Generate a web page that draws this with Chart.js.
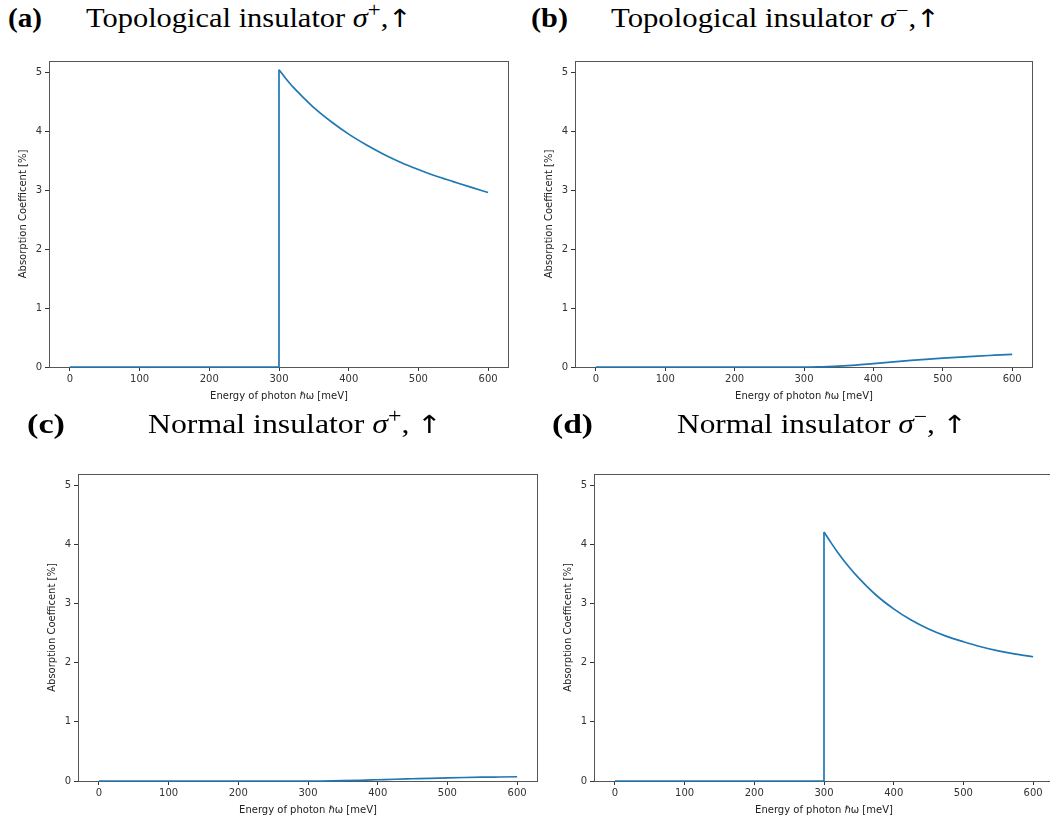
<!DOCTYPE html>
<html><head><meta charset="utf-8">
<script src="https://cdn.jsdelivr.net/npm/chart.js@4"></script>
<style>
html,body{margin:0;padding:0;background:#fff;overflow:hidden;width:1050px;height:822px;position:relative;}
canvas{position:absolute;}
.lab{position:absolute;font-family:"Liberation Serif",serif;font-size:27px;line-height:27px;color:#000;white-space:nowrap;font-weight:bold;transform-origin:0 0;}
.ttl{position:absolute;font-family:"Liberation Serif",serif;font-size:27px;line-height:27px;color:#000;white-space:nowrap;transform-origin:0 0;}
.ttl sup{font-size:0.75em;line-height:0;vertical-align:0.5em;}
.ttl .arr{font-family:"DejaVu Sans",sans-serif;font-size:25px;font-weight:normal;}
</style></head><body>
<script>
// ---- data ----
const energyBelowGap = [0, 300];
const absorptionBelowGap = [0, 0];
const energyAboveGap = [300, 310, 320, 335, 350, 375, 400, 425, 450, 475, 500, 525, 550, 575, 600];
const absorptionTopoPlus  = [5.04, 4.89, 4.75, 4.57, 4.40, 4.16, 3.95, 3.77, 3.61, 3.47, 3.35, 3.24, 3.145, 3.05, 2.96];
const absorptionTopoMinus = [0, 0, 0.001, 0.006, 0.014, 0.033, 0.058, 0.083, 0.107, 0.13, 0.15, 0.168, 0.185, 0.2, 0.215];
const absorptionNormPlus  = [0, 0, 0.0003, 0.002, 0.005, 0.012, 0.021, 0.030, 0.038, 0.046, 0.053, 0.059, 0.064, 0.068, 0.072];
const absorptionNormMinus = [4.21, 4.03, 3.86, 3.63, 3.43, 3.14, 2.91, 2.72, 2.57, 2.45, 2.355, 2.27, 2.20, 2.145, 2.10];
const xTickValues = [0, 100, 200, 300, 400, 500, 600];
const yTickValues = [0, 1, 2, 3, 4, 5];
const panelLetters = ['(a)', '(b)', '(c)', '(d)'];
const panelTitles = [
  'Topological insulator <i>σ</i><sup>+</sup>,<span class="arr">↑</span>',
  'Topological insulator <i>σ</i><sup>−</sup>,<span class="arr">↑</span>',
  'Normal insulator <i>σ</i><sup>+</sup>, <span class="arr">↑</span>',
  'Normal insulator <i>σ</i><sup>−</sup>, <span class="arr">↑</span>'
];
const xAxisTitle = 'Energy of photon ℏω [meV]';
const yAxisTitle = 'Absorption Coefficent [%]';
const seriesList = [absorptionTopoPlus, absorptionTopoMinus, absorptionNormPlus, absorptionNormMinus];

// ---- layout ----
const plotBoxes = [
  {l: 49, t: 61, r: 509, b: 367},
  {l: 575, t: 61, r: 1033, b: 367},
  {l: 78, t: 474, r: 538, b: 781},
  {l: 594, t: 474, r: 1054, b: 781}
];
const letterPos = [{x: 8, y: 5, w: 34}, {x: 531, y: 5, w: 37}, {x: 27, y: 411, w: 38}, {x: 552, y: 411, w: 41}];
const titlePos = [{x: 86, y: 5, w: 326}, {x: 611, y: 5, w: 329}, {x: 148, y: 411, w: 294}, {x: 677, y: 411, w: 290}];

const framePlugin = {
  id: 'frame',
  beforeDatasetsDraw(chart) {
    const {ctx, chartArea: a} = chart;
    ctx.save();
    ctx.strokeStyle = '#555';
    ctx.lineWidth = 1;
    ctx.strokeRect(a.left + 0.5, a.top + 0.5, a.right - a.left - 1, a.bottom - a.top);
    ctx.restore();
  }
};

const PAD_L = 50, PAD_T = 10, PAD_R = 12, PAD_B = 45;

function fitWidth(el, target) {
  const w = el.getBoundingClientRect().width;
  if (w > 0) el.style.transform = 'scaleX(' + (target / w) + ')';
}

function makePanel(i) {
  const box = plotBoxes[i];
  const c = document.createElement('canvas');
  c.width = (box.r - box.l) + PAD_L + PAD_R;
  c.height = (box.b - box.t) + PAD_T + PAD_B;
  c.style.left = (box.l - PAD_L) + 'px';
  c.style.top = (box.t - PAD_T) + 'px';
  document.body.appendChild(c);
  const tickFont = {family: 'DejaVu Sans', size: 10};
  const lineStyle = {borderColor: '#1f77b4', borderWidth: 1.7, pointRadius: 0, fill: false, clip: false};
  new Chart(c, {
    type: 'line',
    data: {datasets: [
      Object.assign({
        data: energyBelowGap.map((x, k) => ({x: x, y: absorptionBelowGap[k]}))
          .concat([{x: energyAboveGap[0], y: seriesList[i][0]}]),
        tension: 0
      }, lineStyle),
      Object.assign({
        data: energyAboveGap.map((x, k) => ({x: x, y: seriesList[i][k]})),
        cubicInterpolationMode: 'monotone'
      }, lineStyle)
    ]},
    options: {
      responsive: false, animation: false, events: [],
      layout: {padding: {left: 0, top: PAD_T, right: PAD_R, bottom: 0}},
      plugins: {legend: {display: false}, tooltip: {enabled: false}},
      scales: {
        x: {
          type: 'linear', min: -30, max: 630,
          afterBuildTicks: s => { s.ticks = xTickValues.map(v => ({value: v})); },
          afterFit: s => { s.height = PAD_B; },
          grid: {drawOnChartArea: false, drawTicks: true, tickLength: 4, tickColor: '#333'},
          border: {display: false},
          ticks: {font: tickFont, color: '#333', padding: 2, maxRotation: 0, autoSkip: false},
          title: {display: true, text: xAxisTitle, font: tickFont, color: '#222', padding: {top: 0, bottom: 10}}
        },
        y: {
          type: 'linear', min: 0, max: 5.19,
          afterBuildTicks: s => { s.ticks = yTickValues.map(v => ({value: v})); },
          afterFit: s => { s.width = PAD_L; },
          grid: {drawOnChartArea: false, drawTicks: true, tickLength: 4, tickColor: '#333'},
          border: {display: false},
          ticks: {font: tickFont, color: '#333', padding: 3, autoSkip: false},
          title: {display: true, text: yAxisTitle, font: tickFont, color: '#222', padding: {top: 18, bottom: 0}}
        }
      }
    },
    plugins: [framePlugin]
  });

  const lab = document.createElement('div');
  lab.className = 'lab';
  lab.textContent = panelLetters[i];
  lab.style.left = letterPos[i].x + 'px';
  lab.style.top = letterPos[i].y + 'px';
  document.body.appendChild(lab);
  fitWidth(lab, letterPos[i].w);

  const t = document.createElement('div');
  t.className = 'ttl';
  t.innerHTML = panelTitles[i];
  t.style.left = titlePos[i].x + 'px';
  t.style.top = titlePos[i].y + 'px';
  document.body.appendChild(t);
  fitWidth(t, titlePos[i].w);
}
for (let i = 0; i < 4; i++) makePanel(i);
</script>
</body></html>
